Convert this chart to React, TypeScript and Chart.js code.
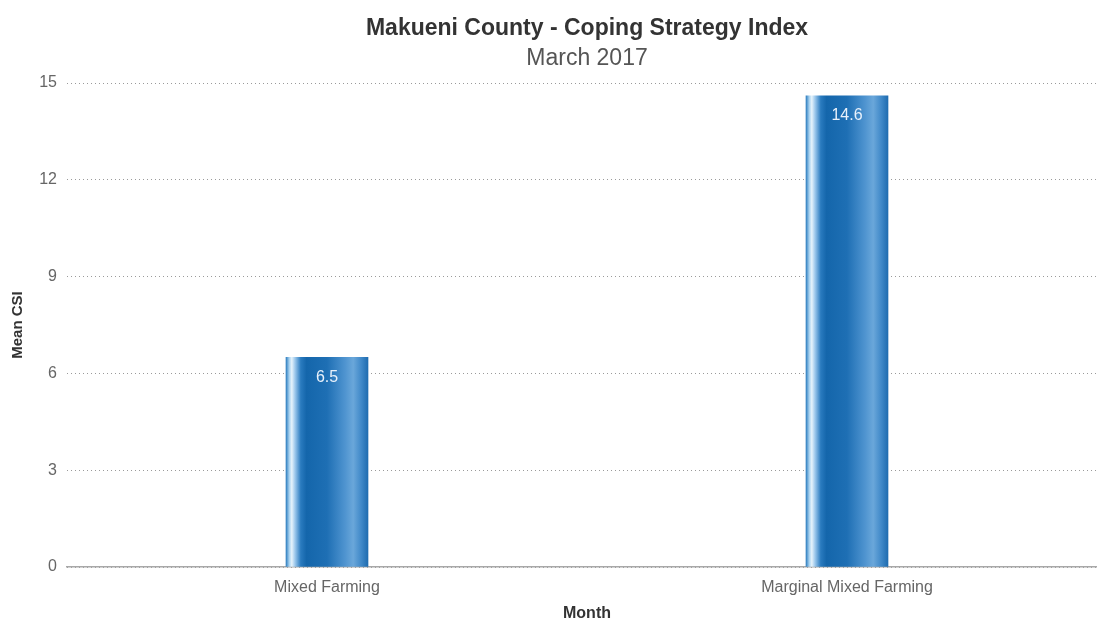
import React, { useEffect, useRef } from "react";
import { Chart, registerables } from "chart.js";

Chart.register(...registerables);

// Chart content
const chartTitle = "Makueni County - Coping Strategy Index";
const chartSubtitle = "March 2017";
const xAxisTitle = "Month";
const yAxisTitle = "Mean CSI";

const zones = ["Mixed Farming", "Marginal Mixed Farming"];
const meanCsi = [6.5, 14.6];
const yTicks = [0, 3, 6, 9, 12, 15];

const FONT = "'Liberation Sans', Arial, Helvetica, sans-serif";
const BAR_WIDTH = 82;

// Horizontal "cylinder" shading across each bar
const barStops: [number, string][] = [
  [0, "#2f7fc0"],
  [0.04, "#a8d2f0"],
  [0.07, "#e6f3fb"],
  [0.11, "#9cc8ec"],
  [0.18, "#2a7bbf"],
  [0.25, "#1466ab"],
  [0.5, "#1e6fb4"],
  [0.72, "#4f94d0"],
  [0.82, "#6aa7da"],
  [0.92, "#3f88c8"],
  [1, "#1f6cb0"],
];

const valueLabels = {
  id: "valueLabels",
  afterDatasetsDraw(chart: any) {
    const ctx = chart.ctx;
    const meta = chart.getDatasetMeta(0);
    ctx.save();
    ctx.font = `16px ${FONT}`;
    ctx.fillStyle = "#e8f1fb";
    ctx.textAlign = "center";
    ctx.textBaseline = "middle";
    meta.data.forEach((bar: any, i: number) => {
      const v = chart.data.datasets[0].data[i];
      ctx.fillText(String(v), bar.x, bar.y + 20);
    });
    ctx.restore();
  },
};

export default function App() {
  const canvasRef = useRef<HTMLCanvasElement | null>(null);

  useEffect(() => {
    if (!canvasRef.current) return;
    const chart = new Chart(canvasRef.current, {
      type: "bar",
      data: {
        labels: zones,
        datasets: [
          {
            label: yAxisTitle,
            data: meanCsi,
            barThickness: BAR_WIDTH,
            borderWidth: 0,
            backgroundColor: (c: any) => {
              const ch = c.chart;
              if (!ch.chartArea || c.dataIndex === undefined) return "#1e6fb4";
              const cx = ch.scales.x.getPixelForValue(c.dataIndex);
              const g = ch.ctx.createLinearGradient(cx - BAR_WIDTH / 2, 0, cx + BAR_WIDTH / 2, 0);
              barStops.forEach(([t, col]) => g.addColorStop(t, col));
              return g;
            },
          },
        ],
      },
      options: {
        animation: false,
        responsive: true,
        maintainAspectRatio: false,
        layout: { padding: { left: 0, right: 10, top: 0, bottom: 0 } },
        plugins: {
          legend: { display: false },
          tooltip: { enabled: false },
          title: {
            display: true,
            text: chartTitle,
            fullSize: false,
            color: "#333333",
            font: { family: FONT, size: 23, weight: "bold", lineHeight: 1.2 },
            padding: { top: 15, bottom: 2.4 },
          },
          subtitle: {
            display: true,
            text: chartSubtitle,
            fullSize: false,
            color: "#555555",
            font: { family: FONT, size: 23, weight: "normal", lineHeight: 1.2 },
            padding: { top: 0, bottom: 10.4 },
          },
        },
        scales: {
          x: {
            grid: { display: false, drawTicks: false },
            border: { display: true, color: "#a8a8a8", width: 1.5 },
            ticks: {
              color: "#666666",
              font: { family: FONT, size: 16 },
              padding: 11,
            },
            title: {
              display: true,
              text: xAxisTitle,
              color: "#333333",
              font: { family: FONT, size: 16, weight: "bold", lineHeight: 0.7 },
              padding: { top: 0, bottom: 0 },
            },
            afterFit: (scale: any) => {
              scale.height = 52;
            },
          },
          y: {
            min: 0,
            max: 15,
            grid: {
              color: "#9a9a9a",
              lineWidth: 1,
              drawTicks: false,
            },
            border: { display: false, dash: [1, 3] },
            ticks: {
              color: "#666666",
              font: { family: FONT, size: 16 },
              padding: 10,
              stepSize: 3,
            },
            afterBuildTicks: (scale: any) => {
              scale.ticks = yTicks.map((v) => ({ value: v }));
            },
            title: {
              display: true,
              text: yAxisTitle,
              color: "#333333",
              font: { family: FONT, size: 15, weight: "bold", lineHeight: 1.2 },
              padding: { top: 9, bottom: 0 },
            },
            afterFit: (scale: any) => {
              scale.width = 67;
            },
          },
        },
      },
      plugins: [valueLabels],
    });
    return () => chart.destroy();
  }, []);

  return (
    <div
      style={{
        position: "fixed",
        left: 0,
        top: 0,
        width: 1097,
        height: 619,
        overflow: "hidden",
        background: "#ffffff",
      }}
    >
      <div style={{ position: "relative", width: 1117, height: 619 }}>
        <canvas ref={canvasRef} />
      </div>
    </div>
  );
}
